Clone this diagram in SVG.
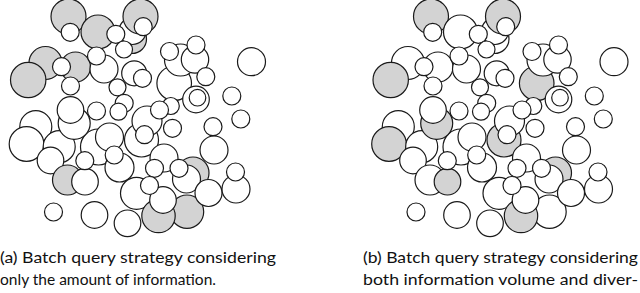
<svg xmlns="http://www.w3.org/2000/svg" width="640" height="293" viewBox="0 0 640 293">
<style>
circle{stroke:#1a1a1a;stroke-width:1.2;fill:#fff}
.g{fill:#d3d3d3}
text{font-family:Lato,"Open Sans","Liberation Sans",sans-serif;font-size:16px;fill:#111}
</style>
<rect width="640" height="293" fill="#fff"/>
<g id="panel-a" transform="translate(-362.5,0)">
<circle cx="408" cy="63" r="16.5" class="g"/>
<circle cx="390.7" cy="80" r="17.7" class="g"/>
<circle cx="431" cy="16.5" r="17.5" class="g"/>
<circle cx="460.5" cy="32" r="17" class="g"/>
<circle cx="494.5" cy="39" r="14.5" class="g"/>
<circle cx="495" cy="31" r="13.5"/>
<circle cx="503" cy="16.5" r="17.5" class="g"/>
<circle cx="438" cy="67" r="15" class="g"/>
<circle cx="466.5" cy="69" r="14"/>
<circle cx="496.7" cy="73.3" r="12.5"/>
<circle cx="536.7" cy="83.3" r="17.3"/>
<circle cx="543" cy="60" r="16"/>
<circle cx="557.5" cy="59.5" r="13.7"/>
<circle cx="614" cy="61.7" r="14"/>
<circle cx="558.5" cy="99.5" r="13.3"/>
<circle cx="560" cy="97.7" r="8.3"/>
<circle cx="461" cy="147" r="18"/>
<circle cx="398.3" cy="126.7" r="16"/>
<circle cx="389" cy="144" r="17.3"/>
<circle cx="421.7" cy="146.7" r="16"/>
<circle cx="436.7" cy="123.3" r="16"/>
<circle cx="413" cy="160.5" r="13.3"/>
<circle cx="472" cy="137" r="14"/>
<circle cx="482" cy="167.5" r="14.5"/>
<circle cx="504" cy="140" r="17"/>
<circle cx="509.5" cy="121" r="15"/>
<circle cx="576.5" cy="150" r="14"/>
<circle cx="526.5" cy="158" r="14"/>
<circle cx="555.5" cy="173" r="16" class="g"/>
<circle cx="549" cy="179" r="14"/>
<circle cx="430" cy="180" r="15" class="g"/>
<circle cx="447.5" cy="181.7" r="13.3"/>
<circle cx="499" cy="193.3" r="16"/>
<circle cx="549.5" cy="211.7" r="16.7" class="g"/>
<circle cx="521" cy="216" r="16.7" class="g"/>
<circle cx="525.5" cy="200" r="13.3"/>
<circle cx="571" cy="193" r="13.5"/>
<circle cx="598.5" cy="189" r="14"/>
<circle cx="457" cy="215" r="13.3"/>
<circle cx="490" cy="223.3" r="13.3"/>
<circle cx="433" cy="110" r="13.3"/>
<circle cx="432.7" cy="32.3" r="9"/>
<circle cx="478.3" cy="34.3" r="9"/>
<circle cx="505.7" cy="26.7" r="9"/>
<circle cx="486.5" cy="49.5" r="8.5"/>
<circle cx="424" cy="66.7" r="9"/>
<circle cx="459" cy="56" r="9"/>
<circle cx="433" cy="86" r="9"/>
<circle cx="480" cy="87.3" r="8.5"/>
<circle cx="505" cy="78.3" r="9"/>
<circle cx="532" cy="51.5" r="9"/>
<circle cx="558.5" cy="45" r="9"/>
<circle cx="568.3" cy="76.7" r="9"/>
<circle cx="594.3" cy="96" r="9"/>
<circle cx="533.3" cy="106" r="8.5"/>
<circle cx="522" cy="110" r="9"/>
<circle cx="603.3" cy="119" r="9"/>
<circle cx="459" cy="111" r="9"/>
<circle cx="486.7" cy="103.3" r="9"/>
<circle cx="481" cy="111.7" r="8.5"/>
<circle cx="507" cy="134.7" r="9"/>
<circle cx="535" cy="128.3" r="9"/>
<circle cx="575.5" cy="126.7" r="9"/>
<circle cx="476.7" cy="155" r="9"/>
<circle cx="447.3" cy="160.7" r="9"/>
<circle cx="517" cy="168.3" r="9"/>
<circle cx="541.5" cy="168.3" r="9"/>
<circle cx="512" cy="185.5" r="9"/>
<circle cx="598" cy="172" r="9"/>
<circle cx="416" cy="212" r="9"/>
</g>
<g id="panel-b">
<circle cx="408" cy="63" r="16.5"/>
<circle cx="390.7" cy="80" r="17.7" class="g"/>
<circle cx="431" cy="16.5" r="17.5" class="g"/>
<circle cx="460.5" cy="32" r="17"/>
<circle cx="494.5" cy="39" r="14.5"/>
<circle cx="495" cy="31" r="13.5"/>
<circle cx="503" cy="16.5" r="17.5" class="g"/>
<circle cx="438" cy="67" r="15"/>
<circle cx="466.5" cy="69" r="14"/>
<circle cx="496.7" cy="73.3" r="12.5"/>
<circle cx="536.7" cy="83.3" r="17.3" class="g"/>
<circle cx="543" cy="60" r="16"/>
<circle cx="557.5" cy="59.5" r="13.7"/>
<circle cx="614" cy="61.7" r="14"/>
<circle cx="558.5" cy="99.5" r="13.3"/>
<circle cx="560" cy="97.7" r="8.3"/>
<circle cx="461" cy="147" r="18"/>
<circle cx="398.3" cy="126.7" r="16"/>
<circle cx="389" cy="144" r="17.3" class="g"/>
<circle cx="421.7" cy="146.7" r="16"/>
<circle cx="436.7" cy="123.3" r="16" class="g"/>
<circle cx="413" cy="160.5" r="13.3"/>
<circle cx="472" cy="137" r="14"/>
<circle cx="482" cy="167.5" r="14.5"/>
<circle cx="504" cy="140" r="17" class="g"/>
<circle cx="509.5" cy="121" r="15"/>
<circle cx="576.5" cy="150" r="14"/>
<circle cx="526.5" cy="158" r="14"/>
<circle cx="555.5" cy="173" r="16" class="g"/>
<circle cx="549" cy="179" r="14"/>
<circle cx="430" cy="180" r="15"/>
<circle cx="447.5" cy="181.7" r="13.3" class="g"/>
<circle cx="499" cy="193.3" r="16"/>
<circle cx="549.5" cy="211.7" r="16.7"/>
<circle cx="521" cy="216" r="16.7" class="g"/>
<circle cx="525.5" cy="200" r="13.3"/>
<circle cx="571" cy="193" r="13.5"/>
<circle cx="598.5" cy="189" r="14"/>
<circle cx="457" cy="215" r="13.3"/>
<circle cx="490" cy="223.3" r="13.3"/>
<circle cx="433" cy="110" r="13.3"/>
<circle cx="432.7" cy="32.3" r="9"/>
<circle cx="478.3" cy="34.3" r="9"/>
<circle cx="505.7" cy="26.7" r="9"/>
<circle cx="486.5" cy="49.5" r="8.5"/>
<circle cx="424" cy="66.7" r="9"/>
<circle cx="459" cy="56" r="9"/>
<circle cx="433" cy="86" r="9"/>
<circle cx="480" cy="87.3" r="8.5"/>
<circle cx="505" cy="78.3" r="9"/>
<circle cx="532" cy="51.5" r="9"/>
<circle cx="558.5" cy="45" r="9"/>
<circle cx="568.3" cy="76.7" r="9"/>
<circle cx="594.3" cy="96" r="9"/>
<circle cx="533.3" cy="106" r="8.5"/>
<circle cx="522" cy="110" r="9"/>
<circle cx="603.3" cy="119" r="9"/>
<circle cx="459" cy="111" r="9"/>
<circle cx="486.7" cy="103.3" r="9"/>
<circle cx="481" cy="111.7" r="8.5"/>
<circle cx="507" cy="134.7" r="9"/>
<circle cx="535" cy="128.3" r="9"/>
<circle cx="575.5" cy="126.7" r="9"/>
<circle cx="476.7" cy="155" r="9"/>
<circle cx="447.3" cy="160.7" r="9"/>
<circle cx="517" cy="168.3" r="9"/>
<circle cx="541.5" cy="168.3" r="9"/>
<circle cx="512" cy="185.5" r="9"/>
<circle cx="598" cy="172" r="9"/>
<circle cx="416" cy="212" r="9"/>
</g>
<g id="captions">
<text x="0" y="263" textLength="276" lengthAdjust="spacingAndGlyphs">(a) Batch query strategy considering</text>
<text x="0" y="285" textLength="216" lengthAdjust="spacingAndGlyphs">only the amount of information.</text>
<text x="363" y="263" textLength="275" lengthAdjust="spacingAndGlyphs">(b) Batch query strategy considering</text>
<text x="363" y="285" textLength="275" lengthAdjust="spacingAndGlyphs">both information volume and diver-</text>
</g>
</svg>
